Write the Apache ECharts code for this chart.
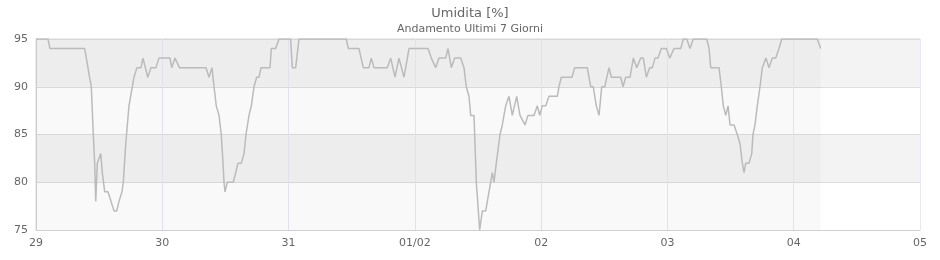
<!DOCTYPE html>
<html>
<head>
<meta charset="utf-8">
<script src="https://cdn.jsdelivr.net/npm/echarts@6/dist/echarts.min.js"></script>
<style>html,body{margin:0;padding:0;background:#fff}#c{width:940px;height:260px}</style>
</head>
<body>
<div id="c"></div>
<script>
// hours since 29 00:00
var hours = [0,2.28,2.66,9.25,9.88,10.17,10.51,10.89,11.15,11.35,11.65,12.30,12.60,13.06,13.68,14.82,15.34,15.77,16.34,16.59,17.05,17.67,18.30,18.62,19.19,19.95,20.34,21.23,21.85,22.80,23.37,25.46,25.79,26.42,27.27,32.31,32.88,33.45,33.83,34.26,34.78,35.21,35.54,35.73,35.92,36.35,37.50,37.95,38.39,39.02,39.53,39.91,40.48,40.92,41.43,41.94,42.38,42.76,44.47,44.72,45.55,46.18,48.40,48.71,49.35,49.98,58.97,59.35,61.38,62.20,63.28,63.72,64.23,66.76,67.41,68.23,68.98,69.94,70.89,74.50,75.13,75.96,76.59,77.86,78.30,78.93,79.57,80.71,81.34,81.77,82.29,82.61,83.24,83.68,84.32,84.82,85.46,86.09,86.72,87.04,87.48,88.18,88.62,89.26,89.89,90.52,90.84,91.35,91.98,92.36,92.93,93.50,94.64,95.27,95.73,96.22,96.87,97.49,99.07,99.39,99.83,101.86,102.38,104.77,105.42,105.91,106.48,107.00,107.51,108.08,108.90,109.34,111.12,111.56,112.07,112.89,113.52,114.16,114.92,115.42,115.99,116.63,117.13,117.64,118.21,118.84,119.79,120.44,121.25,122.53,123.02,123.67,124.29,124.92,127.47,127.91,128.23,129.81,130.24,130.62,131.08,131.52,131.90,132.66,133.28,133.80,134.23,134.56,134.88,135.51,136.02,136.26,136.64,137.08,137.59,138.03,138.72,139.30,139.93,140.58,141.20,141.72,148.48,149.13];
var humidity = [95,95,94,94,92,91,90,85,82,78,82,83,81,79,79,77,77,78,79,80,84,88,90,91,92,92,93,91,92,92,93,93,92,93,92,92,91,92,90,88,87,85,82,80,79,80,80,81,82,82,83,85,87,88,90,91,91,92,92,94,94,95,95,92,92,95,95,94,94,92,92,93,92,92,93,91,93,91,94,94,93,92,93,93,94,92,93,93,92,90,89,87,87,80,75,77,77,79,81,80,82,85,86,88,89,87,87,89,87,87,86,87,87,88,87,88,88,89,89,90,91,91,92,92,90,90,88,87,90,90,92,91,91,90,91,91,93,92,93,93,91,92,92,93,93,94,94,93,94,94,95,95,94,95,95,94,92,92,90,88,87,88,86,86,85,84,82,81,82,82,83,85,86,88,90,92,93,92,93,93,94,95,95,94];
var tickLabels = ['29','30','31','01/02','02','03','04','05'];
var yTicks = {min: 75, max: 95, step: 5};

var data = hours.map(function (h, i) { return [h, humidity[i]]; });
var lastHour = hours[hours.length - 1];
var font = 'DejaVu Sans';

var chart = echarts.init(document.getElementById('c'), null, {renderer: 'canvas'});
chart.setOption({
  animation: false,
  backgroundColor: '#ffffff',
  title: {
    text: 'Umidita [%]',
    subtext: 'Andamento Ultimi 7 Giorni',
    left: 'center',
    top: 2,
    itemGap: 4,
    textStyle: {fontFamily: font, fontSize: 13, fontWeight: 'normal', color: '#666'},
    subtextStyle: {fontFamily: font, fontSize: 11, color: '#666'}
  },
  grid: {left: 36, right: 20, top: 39, bottom: 30, show: true, borderColor: '#d9d9d9', borderWidth: 1},
  xAxis: {
    type: 'value', min: 0, max: 168, interval: 24,
    axisLine: {show: true, lineStyle: {color: '#d0d0d0'}},
    axisTick: {show: false},
    axisLabel: {
      fontFamily: font, fontSize: 11, color: '#666', margin: 8,
      formatter: function (v) { return tickLabels[Math.round(v / 24)]; }
    },
    splitLine: {show: true, lineStyle: {color: '#e8e8f4'}}
  },
  yAxis: {
    type: 'value', min: yTicks.min, max: yTicks.max, interval: yTicks.step,
    axisLine: {show: true, lineStyle: {color: '#d0d0d0'}},
    axisTick: {show: false},
    axisLabel: {fontFamily: font, fontSize: 11, color: '#666', margin: 8},
    splitLine: {show: true, lineStyle: {color: '#dddddd'}},
    splitArea: {show: true, areaStyle: {color: ['#ffffff', '#f3f3f3']}}
  },
  series: [{
    type: 'line',
    data: data,
    symbol: 'none',
    lineStyle: {color: '#bbbbbb', width: 1.5},
    markArea: {
      silent: true,
      itemStyle: {color: '#000000', opacity: 0.025},
      data: [[{xAxis: 0}, {xAxis: lastHour}]]
    }
  }]
});
</script>
</body>
</html>
